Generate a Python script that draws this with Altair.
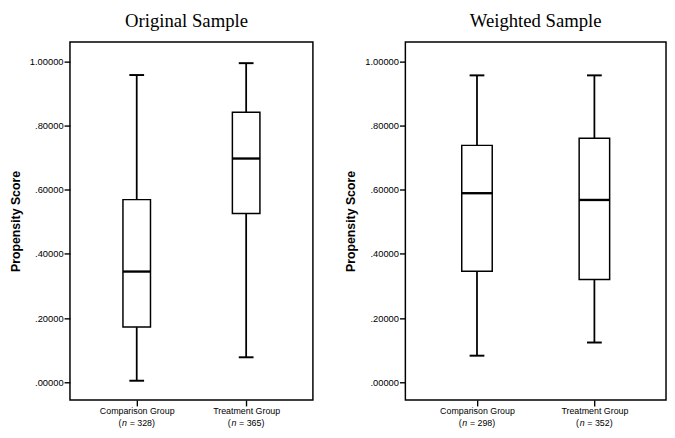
import altair as alt
import pandas as pd

groups = ["Comparison Group", "Treatment Group"]

# Original sample (min, q1, median, q3, max)
orig_n = [328, 365]
orig_min = [0.005, 0.078]
orig_q1 = [0.172, 0.526]
orig_med = [0.345, 0.697]
orig_q3 = [0.569, 0.841]
orig_max = [0.957, 0.994]

# Weighted sample
wt_n = [298, 352]
wt_min = [0.083, 0.124]
wt_q1 = [0.346, 0.320]
wt_med = [0.589, 0.568]
wt_q3 = [0.738, 0.760]
wt_max = [0.956, 0.956]

y_ticks = [0.0, 0.2, 0.4, 0.6, 0.8, 1.0]

SANS = "Liberation Sans"
SERIF = "Liberation Serif"
PLOT_H = 364


def panel(title, n, mn, q1, med, q3, mx, width, box_w, title_dx):
    df = pd.DataFrame(dict(group=groups, n=n, lo=mn, q1=q1, med=med, q3=q3, hi=mx))
    df["open"] = "("
    df["nn"] = "n"
    df["rest"] = ["= %d)" % v for v in n]

    xenc = alt.X(
        "group:N",
        sort=groups,
        scale=alt.Scale(type="point", padding=0.61),
        axis=alt.Axis(
            title=None, labelAngle=0, domain=False, ticks=True, tickSize=6,
            tickColor="black", tickWidth=1.4, labelFontSize=9, labelFont=SANS,
            labelColor="black", labelPadding=1,
        ),
    )
    yscale = alt.Scale(domain=[-0.055, 1.06], nice=False, zero=False)
    yenc = alt.Y(
        "q1:Q",
        scale=yscale,
        axis=alt.Axis(
            title="Propensity Score", values=y_ticks, grid=False, domain=False,
            tickSize=6, tickColor="black", tickWidth=1.4,
            labelExpr="datum.value < 1 ? substring(format(datum.value, '.5f'), 1) : format(datum.value, '.5f')",
            labelFontSize=9.5, labelFont=SANS, labelColor="black", labelPadding=1,
            titleFont=SANS, titleFontSize=12.5, titleFontWeight="bold",
            titleColor="black", titlePadding=7,
        ),
    )
    base = alt.Chart(df)
    upper = base.mark_rule(color="black", strokeWidth=1.8).encode(
        x=xenc, y=alt.Y("q3:Q", scale=yscale), y2="hi:Q")
    lower = base.mark_rule(color="black", strokeWidth=1.8).encode(
        x=xenc, y=alt.Y("lo:Q", scale=yscale), y2="q1:Q")
    box = base.mark_bar(size=box_w, fill="white", stroke="black", strokeWidth=1.5).encode(
        x=xenc, y=yenc, y2="q3:Q")
    median = base.mark_tick(size=box_w, thickness=2.4, color="black", opacity=1).encode(
        x=xenc, y=alt.Y("med:Q", scale=yscale))
    cap_hi = base.mark_tick(size=15, thickness=2, color="black", opacity=1).encode(
        x=xenc, y=alt.Y("hi:Q", scale=yscale))
    cap_lo = base.mark_tick(size=15, thickness=2, color="black", opacity=1).encode(
        x=xenc, y=alt.Y("lo:Q", scale=yscale))

    line_y = PLOT_H + 23
    t1 = base.mark_text(font=SANS, fontSize=9, color="black", align="right", dx=-15.6,
                        baseline="middle").encode(x=xenc, y=alt.value(line_y), text="open:N")
    t2 = base.mark_text(font=SANS, fontSize=9, color="black", align="left", dx=-15.0,
                        fontStyle="italic", baseline="middle").encode(x=xenc, y=alt.value(line_y), text="nn:N")
    t3 = base.mark_text(font=SANS, fontSize=9, color="black", align="left", dx=-7.2,
                        baseline="middle").encode(x=xenc, y=alt.value(line_y), text="rest:N")

    return alt.layer(upper, lower, box, median, cap_hi, cap_lo, t1, t2, t3).properties(
        width=width,
        height=PLOT_H,
        title=alt.TitleParams(
            title, anchor="middle", frame="group", dx=title_dx, font=SERIF,
            fontSize=19, fontWeight="normal", color="black", offset=11,
        ),
    )


left = panel("Original Sample", orig_n, orig_min, orig_q1, orig_med, orig_q3, orig_max, 247, 28, -5)
right = panel("Weighted Sample", wt_n, wt_min, wt_q1, wt_med, wt_q3, wt_max, 265, 31, 0)

chart = alt.hconcat(left, right, spacing=30).properties(
    padding={"left": 0, "top": 0, "right": 0, "bottom": 0},
    background="white",
).configure_view(stroke="black", strokeWidth=1.5)

chart.save("out.html", embed_options={"renderer": "svg", "actions": False})
